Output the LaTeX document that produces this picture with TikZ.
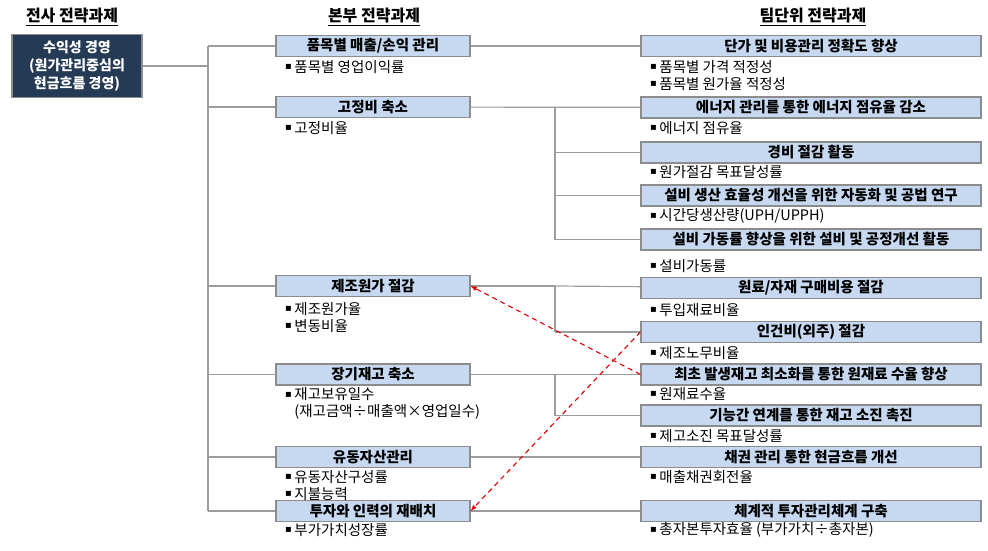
\documentclass[tikz,border=0pt]{standalone}
\usepackage{fontspec}
\setmainfont{Noto Sans CJK KR}
\newfontfamily\symfont{DejaVu Sans}
\usetikzlibrary{arrows}
\definecolor{topnavy}{HTML}{253A55}
\definecolor{boxblue}{HTML}{C6D9F1}
\definecolor{boxline}{HTML}{8C8C8C}
\definecolor{linegray}{HTML}{9C9C9C}
\definecolor{dashred}{HTML}{DD0000}
\tikzstyle{colhead}=[inner sep=0pt, font=\bfseries\fontsize{16}{19}\selectfont]
\tikzstyle{corpbox}=[rectangle, draw=boxline, fill=topnavy, text=white, line width=1.2pt, minimum width=130pt, minimum height=63pt, inner sep=0pt, align=center, font=\bfseries\fontsize{14}{18}\selectfont]
\tikzstyle{hqbox}=[rectangle, draw=boxline, fill=boxblue, line width=1.2pt, minimum width=194pt, minimum height=21pt, inner sep=0pt, font=\bfseries\fontsize{14.5}{17}\selectfont]
\tikzstyle{teambox}=[hqbox, minimum width=340pt]
\tikzstyle{kpi}=[anchor=west, align=left, inner sep=0pt, font=\fontsize{14.5}{17}\selectfont]
\tikzstyle{redarrow}=[dashed, dash pattern=on 5pt off 4pt, draw=dashred, line width=1.1pt, -latex]
\newcommand{\colhead}{\node[colhead]}
\newcommand{\corpbox}{\node[corpbox]}
\newcommand{\hqbox}{\node[hqbox]}
\newcommand{\teambox}{\node[teambox]}
\newcommand{\kpi}{\node[kpi]}
\newcommand{\bul}{\raisebox{2.5pt}{\symfont\fontsize{10}{10}\selectfont ▪}\hspace{2.5pt}}
\newcommand{\nobul}{\hphantom{\bul}}

\begin{document}
\begin{tikzpicture}[x=1pt, y=-1pt
    ,every edge/.style={draw, linegray, line width=1.2pt}
]
\useasboundingbox (0,0) rectangle (988,551);
% column heads
\colhead (hcorp) at (72,17) {\underline{전사 전략과제}};
\colhead (hhq) at (374,17) {\underline{본부 전략과제}};
\colhead (hteam) at (813,17) {\underline{팀단위 전략과제}};

\corpbox (corp) at (77,66) {수익성 경영\\(원가관리중심의\\현금흐름 경영)};

% 본부
\hqbox (h1) at (373,46) {품목별 매출/손익 관리};
\hqbox (h2) at (373,107) {고정비 축소};
\hqbox (h3) at (373,286) {제조원가 절감};
\hqbox (h4) at (373,374.5) {장기재고 축소};
\hqbox (h5) at (373,457) {유동자산관리};
\hqbox (h6) at (373,511) {투자와 인력의 재배치};
\kpi (m1) at (285,67) {\bul 품목별 영업이익률};
\kpi (m2) at (285,128) {\bul 고정비율};
\kpi (m3) at (285,317.5) {\bul 제조원가율\\\bul 변동비율};
\kpi (m4) at (285,403.5) {\bul 재고보유일수\\\nobul(재고금액÷매출액×영업일수)};
\kpi (m5) at (285,485.5) {\bul 유동자산구성률\\\bul 지불능력};
\kpi (m6) at (285,530) {\bul 부가가치성장률};

% 팀단위
\teambox (t1) at (811,46) {단가 및 비용관리 정확도 향상};
\teambox (t2) at (811,107.5) {에너지 관리를 통한 에너지 점유율 감소};
\teambox (t3) at (811,152.5) {경비 절감 활동};
\teambox (t4) at (811,195.5) {설비 생산 효율성 개선을 위한 자동화 및 공법 연구};
\teambox (t5) at (811,239.5) {설비 가동률 향상을 위한 설비 및 공정개선 활동};
\teambox (t6) at (811,288) {원료/자재 구매비용 절감};
\teambox (t7) at (811,332) {인건비(외주) 절감};
\teambox (t8) at (811,374.5) {최초 발생재고 최소화를 통한 원재료 수율 향상};
\teambox (t9) at (811,415.5) {기능간 연계를 통한 재고 소진 촉진};
\teambox (t10) at (811,457) {채권 관리 통한 현금흐름 개선};
\teambox (t11) at (811,511) {체계적 투자관리체계 구축};
\kpi (r1) at (650,75.5) {\bul 품목별 가격 적정성\\\bul 품목별 원가율 적정성};
\kpi (r2) at (650,128) {\bul 에너지 점유율};
\kpi (r3) at (650,172) {\bul 원가절감 목표달성률};
\kpi (r4) at (650,216) {\bul 시간당생산량(UPH/UPPH)};
\kpi (r5) at (650,266) {\bul 설비가동률};
\kpi (r6) at (650,310) {\bul 투입재료비율};
\kpi (r7) at (650,353) {\bul 제조노무비율};
\kpi (r8) at (650,394) {\bul 원재료수율};
\kpi (r9) at (650,436) {\bul 제고소진 목표달성률};
\kpi (r10) at (650,477) {\bul 매출채권회전율};
\kpi (r11) at (650,530) {\bul 총자본투자효율 (부가가치÷총자본)};

% joints
\coordinate (c0) at (208,66);
\coordinate (c1) at (208,46);
\coordinate (c2) at (208,107);
\coordinate (c3) at (208,286);
\coordinate (c4) at (208,374.5);
\coordinate (c5) at (208,457);
\coordinate (c6) at (208,511);
\coordinate (d2) at (555,107);
\coordinate (d3) at (555,152.5);
\coordinate (d4) at (555,195.5);
\coordinate (d5) at (555,239.5);
\coordinate (d6) at (555,286);
\coordinate (d7) at (555,332);
\coordinate (d8) at (555,374.5);
\coordinate (d9) at (555,415.5);
\path
(corp) edge (c0)
(c1) edge (c6)
(c1) edge (h1) (c2) edge (h2) (c3) edge (h3)
(c4) edge (h4) (c5) edge (h5) (c6) edge (h6)
(h1) edge (t1)
(h2) edge (t2)
(d2) edge (d5) (d3) edge (t3) (d4) edge (t4) (d5) edge (t5)
(h3) edge (d6) (d6) edge (t6) (d6) edge (d7) (d7) edge (t7)
(h4) edge (t8)
(d8) edge (d9) (d9) edge (t9)
(h5) edge (t10)
(h6) edge (t11)
(t8.west) edge[redarrow] (h3.east)
(t7.west) edge[redarrow] (h6.east)
;
\end{tikzpicture}
\end{document}
